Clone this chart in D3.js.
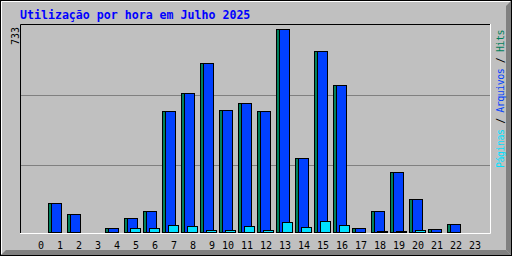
<!DOCTYPE html>
<html>
<head>
<meta charset="utf-8">
<script src="https://cdn.jsdelivr.net/npm/d3@7"></script>
<style>
  html, body { margin: 0; padding: 0; background: #fff; }
  svg { display: block; }
</style>
</head>
<body>
<div id="chart"></div>
<script>
// hourly usage, Webalizer style
const hourLabels = ["0","1","2","3","4","5","6","7","8","9","10","11",
                    "12","13","14","15","16","17","18","19","20","21","22","23"];
const hits  = [0,107,67,0,17,53,78,437,502,610,441,466,437,733,270,653,531,17,78,219,121,13,31,0];
const files = [0,107,67,0,17,53,78,437,502,610,441,466,437,733,270,653,531,17,78,219,121,13,31,0];
const pages = [0,0,0,0,0,18,18,28,24,10,10,24,10,38,20,42,28,2,6,6,10,0,0,0];
const maxLabel = "733";
const titleText = "Utilização por hora em Julho 2025";
const legendParts = [
  {text: "Páginas", color: "#00e0ff"},
  {text: " / ", color: "#000000"},
  {text: "Arquivos", color: "#0040ff"},
  {text: " / ", color: "#000000"},
  {text: "Hits", color: "#00805c"}
];

const W = 512, H = 256;
const mono = "'DejaVu Sans Mono', 'Liberation Mono', monospace";

let svg = d3.select("#chart").append("svg")
    .attr("width", W)
    .attr("height", H);

// background + bevel
svg.append("rect").attr("width", W).attr("height", H).attr("fill", "#c0c0c0");
svg.append("polygon")
    .attr("points", "506,6 511,1 511,255 506,250")
    .attr("fill", "#808080");
svg.append("polygon")
    .attr("points", "6,250 506,250 511,255 1,255")
    .attr("fill", "#808080");
svg.append("rect")
    .attr("x", 0.5).attr("y", 0.5).attr("width", W - 1).attr("height", H - 1)
    .attr("fill", "none").attr("stroke", "#000");
svg.append("path")
    .attr("d", "M1.5,254 V1.5 H510")
    .attr("fill", "none").attr("stroke", "#fff");

// scales
let x = d3.scaleLinear().domain([0, 23]).range([41, 478]);
let y = d3.scaleLinear().domain([0, 733]).range([233, 29]);
let grid = d3.scaleLinear().domain([0, 3]).range([235, 25]);

// plot frame
svg.append("path")
    .attr("d", "M20.5,233 V24.5 H490")
    .attr("fill", "none").attr("stroke", "#000");
svg.append("path")
    .attr("d", "M20,233.5 H490.5 V24")
    .attr("fill", "none").attr("stroke", "#fff");

// grid lines
svg.selectAll(".grid")
    .data([1, 2])
    .enter().append("line")
    .attr("class", "grid")
    .attr("x1", 21).attr("x2", 490)
    .attr("y1", d => Math.round(grid(d)) + 0.5)
    .attr("y2", d => Math.round(grid(d)) + 0.5)
    .attr("stroke", "#808080");

function drawBars(values, dx, w, color) {
    let g = svg.append("g");
    g.selectAll("rect")
        .data(values.map((v, i) => ({v: v, i: i})).filter(d => d.v > 0))
        .enter().append("rect")
        .attr("x", d => x(d.i) + dx + 0.5)
        .attr("y", d => Math.min(Math.round(y(d.v)), 232) + 0.5)
        .attr("width", w - 1)
        .attr("height", d => 233 - Math.min(Math.round(y(d.v)), 232) - 1)
        .attr("fill", color)
        .attr("stroke", "#000");
}

drawBars(hits, -12, 14, "#00805c");
drawBars(files, -9, 11, "#0040ff");
drawBars(pages, -6, 11, "#00e0ff");

// hour labels
svg.selectAll(".hour")
    .data(hourLabels)
    .enter().append("text")
    .attr("class", "hour")
    .attr("x", (d, i) => x(i) - (d.length - 1) * 3)
    .attr("y", 249)
    .attr("text-anchor", "middle")
    .style("font-family", mono)
    .style("font-size", "10px")
    .attr("fill", "#000")
    .text(d => d);

// title
svg.append("text")
    .attr("x", 20)
    .attr("y", 19)
    .style("font-family", mono)
    .style("font-size", "11.6px")
    .style("font-weight", "bold")
    .attr("fill", "#0000ff")
    .text(titleText);

// max value label
svg.append("text")
    .attr("transform", "translate(19,27) rotate(-90)")
    .attr("text-anchor", "end")
    .style("font-family", mono)
    .style("font-size", "10px")
    .attr("fill", "#000")
    .text(maxLabel);

// legend
let legend = svg.append("text")
    .attr("transform", "translate(504,30) rotate(-90)")
    .attr("text-anchor", "end")
    .style("font-family", mono)
    .style("font-size", "10px")
    .style("letter-spacing", "-0.5px");
legend.selectAll("tspan")
    .data(legendParts)
    .enter().append("tspan")
    .attr("fill", d => d.color)
    .style("white-space", "pre")
    .text(d => d.text);
</script>
</body>
</html>
